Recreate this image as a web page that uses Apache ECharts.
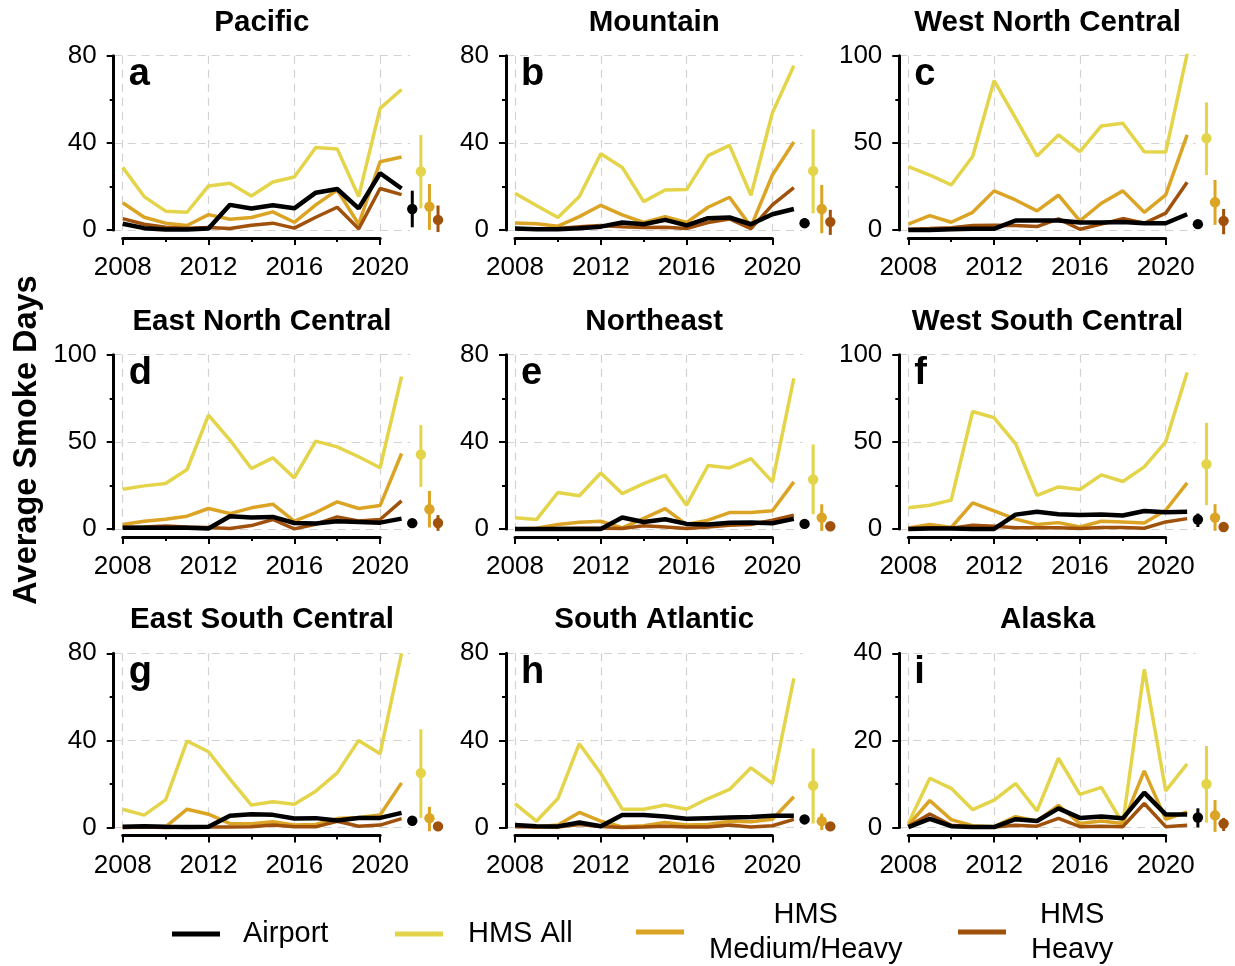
<!DOCTYPE html>
<html><head><meta charset="utf-8">
<script src="https://cdn.jsdelivr.net/npm/echarts@6/dist/echarts.min.js"></script>
<style>html,body{margin:0;padding:0;background:#fff}#c{width:1235px;height:966px}</style>
</head><body><div id="c"></div><script>
// ---------------- data ----------------
const years = [2008,2009,2010,2011,2012,2013,2014,2015,2016,2017,2018,2019,2020,2021];
const regions = ['Pacific','Mountain','West North Central','East North Central','Northeast','West South Central','East South Central','South Atlantic','Alaska'];
const panelLetters = ['a','b','c','d','e','f','g','h','i'];
const yMax = [80,80,100,100,80,100,80,80,40];
const xTickMin = 2008, xTickMax = 2020, xTickStep = 4;
const seriesNames = ['Airport','HMS All','HMS Medium/Heavy','HMS Heavy'];

const airport = [
  [2.8,0.8,0.2,0.2,0.6,11.5,9.8,11.3,9.9,17.1,18.8,9.9,26.0,19.0],
  [0.6,0.3,0.3,0.8,1.5,3.4,2.6,4.6,2.1,5.4,5.7,2.6,7.2,9.6],
  [0,0,0.4,0.6,0.6,5.4,5.4,5.4,4.2,4.2,4.6,3.8,3.8,9.0],
  [0.6,0.6,0.6,0.6,0.2,7.3,6.5,6.9,3.4,3.1,4.4,4.0,3.6,5.9],
  [0,0,0,0,0,5.2,3.2,4.4,2.3,2.0,2.8,2.9,2.6,4.6],
  [0,0.2,0.2,0,0,8.2,9.8,8.4,8.0,8.2,7.7,10.3,9.6,9.8],
  [0.3,0.6,0.3,0.2,0.3,5.4,6.1,5.8,4.1,4.3,3.2,4.4,4.4,6.7],
  [1.1,0.6,0.5,2.3,0.6,5.7,5.7,5.1,4.0,4.3,4.6,4.8,5.4,5.4],
  [0.1,2.0,0.3,0.1,0.1,1.9,1.5,4.4,2.2,2.5,2.1,8.0,3.0,3.0]
];
const hmsAll = [
  [28.7,15.3,8.6,8.1,20.2,21.4,15.6,22.0,24.3,37.8,37.2,15.3,55.8,64.5],
  [16.8,11.2,5.7,15.3,35.0,28.7,13.0,18.3,18.5,34.1,38.8,15.9,53.8,75.4],
  [36.3,31.5,25.8,42.1,85.7,64.1,42.4,54.5,44.9,59.7,61.2,44.9,44.7,101],
  [22.8,24.7,26.1,34.1,65.3,51.0,34.7,40.8,29.3,50.4,47.1,41.4,35.1,87.4],
  [5.1,4.3,16.7,15.2,25.7,16.2,20.8,24.7,10.9,29.1,28.0,32.3,21.6,69.1],
  [12.1,13.6,16.5,67.4,63.8,49.0,19.3,24.1,22.6,31.0,27.2,35.6,50.0,89.8],
  [8.4,5.7,12.7,39.7,34.8,22.2,10.3,11.8,10.7,16.7,25.1,40.0,33.9,80.0],
  [11.0,2.9,13.3,38.5,24.8,8.4,8.4,10.3,8.4,13.3,17.5,27.4,20.2,68.5],
  [0.9,11.3,9.0,4.1,6.3,10.1,3.8,15.9,7.6,9.2,0.9,36.3,8.4,14.6]
];
const hmsMedHeavy = [
  [12.5,5.8,3.1,2.0,7.0,4.9,5.7,8.3,3.5,11.5,18.3,2.6,31.3,33.5],
  [3.2,2.8,1.7,6.1,11.3,6.9,3.4,6.1,3.4,10.4,15.0,1.5,25.2,40.4],
  [3.3,8.2,4.4,10.1,22.4,17.2,10.9,19.9,5.2,15.3,22.4,10.1,20.1,54.5],
  [2.5,4.4,5.6,7.3,11.7,8.8,12.1,14.2,4.4,9.4,15.5,11.7,13.4,43.3],
  [0,0.3,2.0,3.1,3.5,0.5,4.8,9.3,2.0,4.0,7.5,7.5,8.3,21.6],
  [0.6,2.5,0.8,14.9,10.3,5.6,2.5,3.6,1.1,4.4,4.0,3.4,10.7,26.4],
  [0,0.2,0.3,8.4,6.1,1.8,1.7,2.6,1.1,1.4,4.1,4.6,5.7,20.5],
  [0.8,0.3,1.1,6.9,2.9,0.3,0.8,2.3,1.1,1.4,2.9,2.6,3.8,14.1],
  [0.5,6.2,1.8,0.4,0.2,2.5,1.5,5.1,0.9,1.5,0.9,13.0,1.9,3.6]
];
const hmsHeavy = [
  [5.2,2.6,1.2,0.8,1.1,0.6,2.1,3.1,0.8,5.8,10.4,0.5,19.0,16.2],
  [0.5,0.3,0.6,1.5,2.0,1.5,1.1,1.2,0.6,3.4,5.0,0.6,11.5,19.4],
  [0.4,0.8,1.3,2.5,2.7,2.5,1.9,6.3,0.4,3.3,6.5,3.8,9.6,27.3],
  [0.8,1.1,1.7,1.1,0.8,0.2,1.9,5.4,0,2.7,6.9,4.6,5.4,16.1],
  [0,0,0.2,0.3,0.3,0.2,1.4,0.9,0.2,0.9,1.7,2.0,4.0,6.3],
  [0,0.6,0.4,2.1,1.5,0.6,0.6,0.6,0.2,0.8,0.8,0.4,4.0,5.9],
  [0,0.2,0,0.2,0.2,0.2,0.3,1.1,0.3,0.3,2.9,0.6,1.1,4.1],
  [0.3,0.2,0.2,1.4,0.5,0,0.2,0.6,0.2,0.2,1.1,0.2,0.8,3.7],
  [0.2,3.1,0.5,0.1,0.1,0.5,0.3,2.1,0.2,0.3,0.2,5.5,0.2,0.5]
];
// summary (mean and range) per panel, order: Airport, HMS All, HMS Medium/Heavy, HMS Heavy
const summaryX = [2021.5, 2021.9, 2022.3, 2022.7];
const summaryMean = [
  [9.6,26.8,10.7,4.6],[3.1,27.1,9.6,3.7],[3.3,52.6,15.9,5.2],
  [3.3,42.7,11.3,3.4],[2.3,22.7,5.2,1.2],[5.4,37.2,6.5,1.1],
  [3.1,25.0,4.3,0.5],[3.7,19.3,2.9,0.5],[2.3,10.0,2.8,0.9]
];
const summaryLow = [
  [1.2,9.9,0,-1],[0.8,7.6,-1.5,-2.3],[1.9,31.5,2.9,-2.5],
  [2.0,24.1,0.8,-1.1],[1.5,6.7,-0.9,0.6],[1.1,13.6,-1.1,0.6],
  [1.4,4.4,-1.7,0.2],[2.5,1.8,-1.2,0.2],[0,1.1,-1.0,-0.8]
];
const summaryHigh = [
  [18.0,43.6,21.1,11.2],[5.4,46.2,20.6,9.2],[4.8,73.2,28.7,12.0],
  [4.6,59.6,21.8,7.9],[3.1,38.8,11.3,1.8],[8.8,60.9,14.2,1.6],
  [4.9,45.1,9.5,0.8],[4.9,36.3,6.4,0.8],[4.4,18.7,6.3,2.2]
];

// ---------------- style / layout ----------------
const COLORS = {'Airport':'#000000','HMS All':'#E4D44A','HMS Medium/Heavy':'#DCA424','HMS Heavy':'#A0510B'};
const FONT = "'Liberation Sans', Arial, Helvetica, sans-serif";
const colX2008 = [122.7, 515, 908.3];
const rowTop = [55.7, 354.7, 653.3];
const PH = 174.2;
const PPY = 21.45;
const AXIS_OFF = 9;
const X_AXIS_GAP = 8;
const X_RIGHT = 2021.4;

const grids = [], xAxes = [], yAxes = [], series = [], graphics = [];
const gridLine = () => ({show:true, lineStyle:{color:'#d2d2d2', width:1.2, type:[8,6]}});
const blackLine = () => ({color:'#000', width:3});
const blackTick = () => ({color:'#000', width:2});

function renderErr(params, api) {
  const x = api.value(0), m = api.value(1), lo = api.value(2), hi = api.value(3);
  const p = api.coord([x, m]), a = api.coord([x, lo]), b = api.coord([x, hi]);
  const color = api.visual('color');
  return {type:'group', children:[
    {type:'line', shape:{x1:a[0], y1:a[1], x2:b[0], y2:b[1]}, style:{stroke:color, lineWidth:3}},
    {type:'circle', shape:{cx:p[0], cy:p[1], r:5.2}, style:{fill:color}}
  ]};
}

for (let p = 0; p < 9; p++) {
  const col = p % 3, row = Math.floor(p / 3);
  const x0 = colX2008[col], top = rowTop[row];
  const mainLeft = x0 - AXIS_OFF;
  const mainWidth = (X_RIGHT - 2008) * PPY + AXIS_OFF;
  const axW = (xTickMax - xTickMin) * PPY;
  const gm = 3 * p, ga = 3 * p + 1, gx = 3 * p + 2;
  // data grid
  grids.push({left: mainLeft, top: top, width: mainWidth, height: PH});
  // y axis + vertical gridlines grid
  grids.push({left: x0, top: top, width: axW, height: PH});
  // thin grid carrying the bottom (x) axis, set a few px below the zero line
  grids.push({left: x0, top: top + PH + X_AXIS_GAP - 1, width: axW, height: 1});

  xAxes.push({gridIndex: gm, type:'value', min: 2008 - AXIS_OFF / PPY, max: X_RIGHT, show:false});
  yAxes.push({gridIndex: gm, type:'value', min:0, max:yMax[p], interval:yMax[p]/2,
    axisLine:{show:false}, axisTick:{show:false}, axisLabel:{show:false}, splitLine:gridLine()});

  xAxes.push({gridIndex: ga, type:'value', min:xTickMin, max:xTickMax, interval:xTickStep,
    axisLine:{show:false}, axisTick:{show:false}, axisLabel:{show:false}, splitLine:gridLine()});
  yAxes.push({gridIndex: ga, type:'value', min:0, max:yMax[p], interval:yMax[p]/2, offset:AXIS_OFF,
    axisLine:{show:true, onZero:false, lineStyle:blackLine()},
    axisTick:{show:true, length:7, lineStyle:blackTick()},
    minorTick:{show:true, splitNumber:2, length:4, lineStyle:blackTick()},
    axisLabel:{fontSize:26, color:'#000', margin:17, fontFamily:FONT},
    splitLine:{show:false}});

  xAxes.push({gridIndex: gx, type:'value', position:'bottom', min:xTickMin, max:xTickMax, interval:xTickStep,
    axisLine:{show:true, onZero:false, lineStyle:blackLine()},
    axisTick:{show:true, length:7, lineStyle:blackTick()},
    minorTick:{show:true, splitNumber:2, length:4, lineStyle:blackTick()},
    axisLabel:{formatter: v => String(v), fontSize:26, color:'#000', margin:17, fontFamily:FONT},
    splitLine:{show:false}});
  yAxes.push({gridIndex: gx, type:'value', min:0, max:1, show:false});

  const lineData = {'HMS All':hmsAll[p], 'HMS Medium/Heavy':hmsMedHeavy[p], 'HMS Heavy':hmsHeavy[p], 'Airport':airport[p]};
  ['HMS All','HMS Medium/Heavy','HMS Heavy','Airport'].forEach(name => {
    series.push({type:'line', name, xAxisIndex:gm, yAxisIndex:gm, clip:false,
      data: years.map((y, i) => [y, lineData[name][i]]),
      showSymbol:false, symbol:'none', color:COLORS[name],
      lineStyle:{color:COLORS[name], width: name === 'Airport' ? 4.5 : 3.5},
      emphasis:{disabled:true}, silent:true});
  });
  seriesNames.forEach((name, k) => {
    series.push({type:'custom', name, xAxisIndex:gm, yAxisIndex:gm, clip:false,
      color:COLORS[name], itemStyle:{color:COLORS[name]}, renderItem:renderErr, silent:true,
      data:[[summaryX[k], summaryMean[p][k], summaryLow[p][k], summaryHigh[p][k]]], z:3});
  });

  const centerX = mainLeft + mainWidth / 2;
  graphics.push({type:'text', x:centerX, y:top - 33,
    style:{text:regions[p], font:`bold 29.5px ${FONT}`, fill:'#000', textAlign:'center', textVerticalAlign:'middle'}});
  graphics.push({type:'text', x:x0 + 6, y:top + 19,
    style:{text:panelLetters[p], font:`bold 38px ${FONT}`, fill:'#000', textAlign:'left', textVerticalAlign:'middle'}});
}
graphics.push({type:'text', x:27, y:440, rotation:Math.PI/2,
  style:{text:'Average Smoke Days', font:`bold 32.5px ${FONT}`, fill:'#000', textAlign:'center', textVerticalAlign:'middle'}});

const legendBase = {orient:'horizontal', padding:0, itemWidth:48, itemHeight:5, icon:'rect', selectedMode:false,
  textStyle:{fontSize:29, color:'#000', fontFamily:FONT}};
const legends = [
  Object.assign({}, legendBase, {data:['Airport'], left:172, top:917,
    textStyle:{fontSize:29, color:'#000', fontFamily:FONT, lineHeight:34, padding:[0,0,0,18]}}),
  Object.assign({}, legendBase, {data:['HMS All'], left:395, top:917,
    textStyle:{fontSize:29, color:'#000', fontFamily:FONT, lineHeight:34, padding:[0,0,0,20]}}),
  Object.assign({}, legendBase, {data:['HMS Medium/Heavy'], left:636, top:900,
    formatter: () => '{c|HMS}\n{c|Medium/Heavy}',
    textStyle:{color:'#000', fontFamily:FONT, padding:[0,0,0,20],
      rich:{c:{fontSize:29, lineHeight:35, align:'center', color:'#000', fontFamily:FONT}}}}),
  Object.assign({}, legendBase, {data:['HMS Heavy'], left:958, top:900,
    formatter: () => '{c|HMS}\n{c|Heavy}',
    textStyle:{color:'#000', fontFamily:FONT, padding:[0,0,0,20],
      rich:{c:{fontSize:29, lineHeight:35, align:'center', color:'#000', fontFamily:FONT}}}})
];

const chart = echarts.init(document.getElementById('c'), null, {renderer:'canvas'});
chart.setOption({
  backgroundColor:'#fff', animation:false,
  grid:grids, xAxis:xAxes, yAxis:yAxes, series:series,
  legend:legends, graphic:graphics
});
</script></body></html>
